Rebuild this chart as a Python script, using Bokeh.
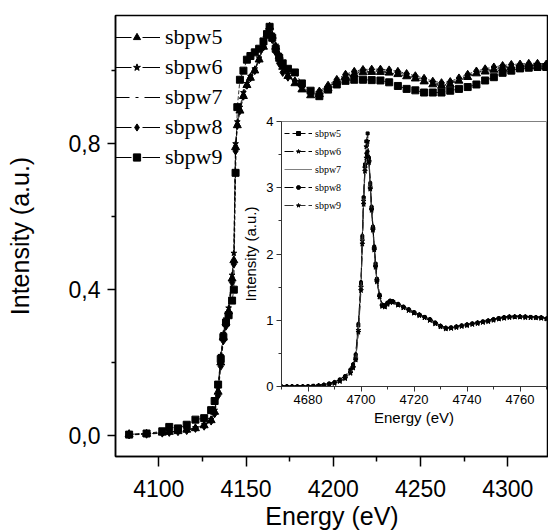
import numpy as np
from bokeh.plotting import figure
from bokeh.models import Range1d, FixedTicker, Legend, LegendItem, ColumnDataSource, CustomJSTickFormatter
from bokeh.embed import file_html
from bokeh.resources import INLINE

# ---------------- data: main plot ----------------
series_names = ["sbpw5", "sbpw6", "sbpw7", "sbpw8", "sbpw9"]

E_main = [4083, 4093, 4102, 4106, 4111, 4116, 4121, 4126, 4130, 4132,
          4134, 4135.5, 4137, 4138.5, 4140, 4142, 4143, 4144, 4145, 4146.5,
          4148.5, 4150.5, 4152.5, 4155, 4157.5, 4160, 4162, 4163.5, 4165, 4167,
          4169, 4171, 4174, 4178, 4182, 4187, 4192, 4197, 4202, 4207,
          4212, 4217, 4222, 4227, 4232, 4237, 4242, 4247, 4252, 4257,
          4262, 4267, 4272, 4277, 4282, 4287, 4292, 4297, 4302, 4307,
          4312, 4317, 4322]

sbpw5_main = [0.004, 0.005, 0.008, 0.010, 0.012, 0.016, 0.020, 0.028, 0.042, 0.065,
              0.12, 0.20, 0.27, 0.31, 0.34, 0.43, 0.48, 0.79, 0.85, 0.89,
              0.93, 0.96, 0.98, 1.00, 1.03, 1.065, 1.10, 1.12, 1.095, 1.065,
              1.04, 1.01, 0.985, 0.965, 0.948, 0.932, 0.935, 0.952, 0.968, 0.982,
              0.990, 0.995, 0.996, 0.996, 0.994, 0.990, 0.984, 0.978, 0.970, 0.962,
              0.958, 0.962, 0.972, 0.982, 0.992, 0.997, 1.002, 1.006, 1.009, 1.010,
              1.012, 1.012, 1.010]
sbpw6_main = [0.003, 0.006, 0.009, 0.011, 0.013, 0.017, 0.022, 0.030, 0.045, 0.070,
              0.13, 0.22, 0.28, 0.32, 0.35, 0.44, 0.50, 0.80, 0.86, 0.90,
              0.94, 0.965, 0.985, 1.005, 1.035, 1.07, 1.10, 1.118, 1.10, 1.07,
              1.045, 1.015, 0.99, 0.97, 0.952, 0.936, 0.94, 0.956, 0.972, 0.986,
              0.994, 0.999, 1.000, 1.000, 0.998, 0.994, 0.988, 0.982, 0.975, 0.967,
              0.963, 0.966, 0.976, 0.986, 0.995, 1.001, 1.006, 1.010, 1.013, 1.014,
              1.016, 1.016, 1.014]
sbpw7_main = [0.004, 0.005, 0.008, 0.010, 0.012, 0.016, 0.021, 0.029, 0.043, 0.066,
              0.125, 0.21, 0.275, 0.315, 0.345, 0.435, 0.49, 0.79, 0.855, 0.895,
              0.935, 0.962, 0.982, 1.002, 1.032, 1.068, 1.10, 1.12, 1.097, 1.067,
              1.042, 1.012, 0.987, 0.967, 0.95, 0.934, 0.937, 0.954, 0.97, 0.984,
              0.992, 0.997, 0.998, 0.998, 0.996, 0.992, 0.986, 0.98, 0.972, 0.964,
              0.96, 0.964, 0.974, 0.984, 0.994, 0.999, 1.004, 1.008, 1.011, 1.012,
              1.014, 1.014, 1.012]
sbpw8_main = [0.002, 0.004, 0.007, 0.009, 0.011, 0.014, 0.020, 0.026, 0.040, 0.060,
              0.11, 0.19, 0.26, 0.30, 0.33, 0.42, 0.47, 0.78, 0.85, 0.89,
              0.93, 0.96, 0.98, 1.00, 1.03, 1.065, 1.098, 1.115, 1.085, 1.05,
              1.02, 0.995, 0.982, 0.972, 0.955, 0.94, 0.944, 0.96, 0.976, 0.99,
              0.998, 1.003, 1.004, 1.004, 1.002, 0.998, 0.992, 0.986, 0.979, 0.971,
              0.967, 0.97, 0.98, 0.99, 0.999, 1.005, 1.010, 1.014, 1.017, 1.018,
              1.020, 1.020, 1.018]
sbpw9_main = [0.003, 0.006, 0.012, 0.024, 0.020, 0.030, 0.044, 0.048, 0.070, 0.095,
              0.14, 0.21, 0.27, 0.31, 0.33, 0.37, 0.40, 0.72, 0.90, 0.975,
              1.00, 1.03, 1.04, 1.05, 1.06, 1.08, 1.10, 1.12, 1.09, 1.06,
              1.035, 1.02, 1.005, 0.995, 0.965, 0.945, 0.93, 0.948, 0.962, 0.972,
              0.975, 0.975, 0.974, 0.973, 0.968, 0.958, 0.95, 0.946, 0.94, 0.94,
              0.94, 0.945, 0.95, 0.955, 0.962, 0.973, 0.982, 0.994, 1.000, 1.006,
              1.008, 1.010, 1.010]

main_x_ticks = [4100, 4150, 4200, 4250, 4300]
main_x_minor = [4125, 4175, 4225, 4275, 4325]
main_y_ticks = [0.0, 0.4, 0.8]
main_y_minor = [0.2, 0.6, 1.0]

# ---------------- data: inset ----------------
E_inset = [4670, 4672, 4674, 4676, 4678, 4680, 4682, 4684, 4686, 4688,
           4690, 4692, 4694, 4696, 4697, 4698, 4699, 4700, 4700.5, 4701,
           4701.5, 4702, 4702.5, 4703, 4703.5, 4704, 4704.5, 4705, 4705.5, 4706,
           4707, 4708, 4709, 4710, 4711, 4712, 4714, 4716, 4718, 4720,
           4722, 4724, 4726, 4728, 4730, 4732, 4734, 4736, 4738, 4740,
           4742, 4744, 4746, 4748, 4750, 4752, 4754, 4756, 4758, 4760,
           4762, 4764, 4766, 4768, 4770]
sbpw5_inset = [0.00, 0.00, 0.00, 0.00, 0.00, 0.00, 0.01, 0.01, 0.02, 0.04,
               0.06, 0.10, 0.15, 0.24, 0.32, 0.47, 0.92, 1.55, 2.25, 2.85,
               3.35, 3.70, 3.82, 3.45, 3.05, 2.70, 2.40, 2.10, 1.85, 1.62,
               1.38, 1.23, 1.22, 1.26, 1.29, 1.28, 1.24, 1.20, 1.16, 1.12,
               1.08, 1.05, 1.01, 0.96, 0.91, 0.88, 0.89, 0.90, 0.92, 0.93,
               0.95, 0.96, 0.98, 0.99, 1.01, 1.03, 1.04, 1.05, 1.05, 1.05,
               1.05, 1.05, 1.04, 1.04, 1.02]
sbpw6_inset = [0.00, 0.00, 0.00, 0.00, 0.00, 0.00, 0.00, 0.01, 0.02, 0.03,
               0.05, 0.08, 0.13, 0.21, 0.29, 0.42, 0.85, 1.50, 2.20, 2.80,
               3.30, 3.62, 3.70, 3.40, 3.00, 2.68, 2.38, 2.08, 1.82, 1.60,
               1.36, 1.22, 1.21, 1.25, 1.28, 1.28, 1.23, 1.19, 1.15, 1.11,
               1.08, 1.04, 1.00, 0.95, 0.91, 0.88, 0.88, 0.90, 0.91, 0.93,
               0.94, 0.96, 0.97, 0.99, 1.01, 1.02, 1.04, 1.05, 1.05, 1.05,
               1.05, 1.04, 1.04, 1.04, 1.02]
sbpw7_inset = [0.00, 0.00, 0.00, 0.00, 0.00, 0.00, 0.01, 0.01, 0.02, 0.04,
               0.06, 0.09, 0.14, 0.23, 0.31, 0.45, 0.90, 1.52, 2.22, 2.82,
               3.30, 3.55, 3.60, 3.42, 3.02, 2.70, 2.40, 2.10, 1.84, 1.61,
               1.37, 1.23, 1.22, 1.26, 1.29, 1.28, 1.24, 1.20, 1.16, 1.12,
               1.08, 1.05, 1.01, 0.96, 0.91, 0.88, 0.89, 0.90, 0.92, 0.93,
               0.95, 0.96, 0.98, 0.99, 1.01, 1.03, 1.04, 1.05, 1.05, 1.05,
               1.05, 1.05, 1.04, 1.04, 1.02]
sbpw8_inset = [0.00, 0.00, 0.00, 0.00, 0.00, 0.01, 0.01, 0.02, 0.03, 0.05,
               0.07, 0.11, 0.16, 0.26, 0.34, 0.49, 0.95, 1.58, 2.28, 2.86,
               3.32, 3.52, 3.55, 3.44, 3.08, 2.72, 2.42, 2.12, 1.86, 1.63,
               1.39, 1.24, 1.23, 1.27, 1.30, 1.29, 1.25, 1.21, 1.17, 1.12,
               1.09, 1.05, 1.02, 0.97, 0.92, 0.89, 0.89, 0.91, 0.92, 0.94,
               0.95, 0.97, 0.98, 1.00, 1.02, 1.03, 1.05, 1.06, 1.06, 1.06,
               1.06, 1.05, 1.05, 1.04, 1.03]
sbpw9_inset = [0.00, 0.00, 0.00, 0.00, 0.00, 0.00, 0.00, 0.01, 0.01, 0.03,
               0.05, 0.08, 0.12, 0.20, 0.28, 0.40, 0.82, 1.45, 2.15, 2.75,
               3.25, 3.45, 3.48, 3.38, 2.98, 2.66, 2.36, 2.06, 1.80, 1.58,
               1.35, 1.21, 1.20, 1.24, 1.27, 1.27, 1.23, 1.19, 1.15, 1.11,
               1.07, 1.04, 1.00, 0.95, 0.90, 0.87, 0.88, 0.89, 0.91, 0.92,
               0.94, 0.95, 0.97, 0.98, 1.00, 1.02, 1.03, 1.04, 1.05, 1.05,
               1.04, 1.04, 1.04, 1.03, 1.02]

inset_x_ticks = [4680, 4700, 4720, 4740, 4760]
inset_x_minor = [4670, 4690, 4710, 4730, 4750, 4770]
inset_y_ticks = [0, 1, 2, 3, 4]
inset_y_minor = [0.5, 1.5, 2.5, 3.5]

SANS = "Liberation Sans"
SERIF = "Liberation Serif"

# ---------------- main figure ----------------
p = figure(width=548, height=532,
           x_range=Range1d(4075.2, 4323.3), y_range=Range1d(-0.057, 1.151),
           output_backend="svg", toolbar_location=None,
           min_border_left=115, min_border_right=0, min_border_top=15, min_border_bottom=70)
p.grid.visible = False
p.outline_line_color = "black"
p.outline_line_width = 1.5
p.background_fill_color = "white"
p.border_fill_color = "white"

xa = p.xaxis[0]
xa.ticker = FixedTicker(ticks=main_x_ticks, minor_ticks=main_x_minor)
ya = p.yaxis[0]
ya.ticker = FixedTicker(ticks=main_y_ticks, minor_ticks=main_y_minor)
ya.formatter = CustomJSTickFormatter(code="return tick.toFixed(1).replace('.', ',');")
xa.axis_label = "Energy (eV)"
ya.axis_label = "Intensity (a.u.)"
for ax, tout, mout in ((xa, 10, 5), (ya, 8, 4)):
    ax.axis_line_width = 1.5
    ax.axis_line_color = "black"
    ax.major_tick_line_width = 1.5
    ax.minor_tick_line_width = 1.5
    ax.major_tick_line_color = "black"
    ax.minor_tick_line_color = "black"
    ax.major_tick_in = 0
    ax.minor_tick_in = 0
    ax.major_tick_out = tout
    ax.minor_tick_out = mout
    ax.major_label_text_font = SANS
    ax.major_label_text_font_size = "23px"
    ax.major_label_text_color = "black"
    ax.axis_label_text_font = SANS
    ax.axis_label_text_font_size = "25px"
    ax.axis_label_text_font_style = "normal"
    ax.axis_label_text_color = "black"
xa.major_label_standoff = 13
xa.axis_label_standoff = 2
ya.major_label_standoff = 7
ya.axis_label_standoff = 32

main_series = [sbpw5_main, sbpw6_main, sbpw7_main, sbpw8_main, sbpw9_main]
main_markers = ["triangle", "star", None, "diamond", "square"]
main_sizes = [8, 6, 0, 8, 7]
legend_dash = ["18 11", "18 11", "16 6 3 6 16", "18 11", "18 11"]

items = []
for name, ys, mk, sz, dash in zip(series_names, main_series, main_markers, main_sizes, legend_dash):
    src = ColumnDataSource(dict(x=E_main, y=ys))
    dash_plot = "6 3 2 3" if mk is None else "4 2"
    p.line("x", "y", source=src, line_color="black", line_width=0.8, line_dash=dash_plot)
    if mk is not None:
        p.scatter("x", "y", source=src, marker=mk, size=sz, fill_color="black", line_color="black")
    # legend proxy (NaN point, draws nothing in the plot)
    proxy = ColumnDataSource(dict(x=[np.nan], y=[np.nan]))
    rs = [p.line("x", "y", source=proxy, line_color="black", line_width=1.2, line_dash=dash)]
    if mk is not None:
        rs.append(p.scatter("x", "y", source=proxy, marker=mk, fill_color="black", line_color="black"))
    items.append(LegendItem(label=name, renderers=rs))

leg = Legend(items=items, location=(-2, 286), orientation="vertical",
             glyph_width=47, glyph_height=18, label_height=24, spacing=4,
             label_standoff=5, padding=0, margin=0,
             border_line_color=None, background_fill_alpha=0,
             label_text_font=SERIF, label_text_font_size="22px", label_text_color="black")
p.add_layout(leg, "center")

# ---------------- inset figure ----------------
ins = figure(width=312, height=317,
             x_range=Range1d(4670, 4770), y_range=Range1d(0, 4),
             output_backend="svg", toolbar_location=None,
             min_border_left=45, min_border_right=2, min_border_top=8, min_border_bottom=44)
ins.styles = {"position": "absolute", "left": "236px", "top": "113px"}
ins.grid.visible = False
ins.border_fill_color = None
ins.background_fill_color = "white"
ins.outline_line_color = "#808080"
ins.outline_line_width = 1

ixa = ins.xaxis[0]
iya = ins.yaxis[0]
ixa.ticker = FixedTicker(ticks=inset_x_ticks, minor_ticks=inset_x_minor)
iya.ticker = FixedTicker(ticks=inset_y_ticks, minor_ticks=inset_y_minor)
ixa.axis_label = "Energy (eV)"
iya.axis_label = "Intensity (a.u.)"
for ax in (ixa, iya):
    ax.axis_line_color = "#333333"
    ax.axis_line_width = 1
    ax.major_tick_line_color = "#333333"
    ax.minor_tick_line_color = "#333333"
    ax.major_tick_in = 0
    ax.minor_tick_in = 0
    ax.major_tick_out = 5
    ax.minor_tick_out = 3
    ax.major_label_text_font = SANS
    ax.major_label_text_font_size = "13px"
    ax.major_label_text_color = "black"
    ax.axis_label_text_font = SANS
    ax.axis_label_text_font_size = "15px"
    ax.axis_label_text_font_style = "normal"
    ax.axis_label_text_color = "black"
ixa.major_label_standoff = 3
ixa.axis_label_standoff = 2
iya.major_label_standoff = 3
iya.axis_label_standoff = 4

inset_series = [sbpw5_inset, sbpw6_inset, sbpw7_inset, sbpw8_inset, sbpw9_inset]
inset_markers = ["square", "star", None, "circle", "star"]
inset_sizes = [3, 5, 0, 3, 5]
inset_colors = ["black", "black", "#808080", "black", "#333333"]
inset_dash = ["5 3", "9 3", "solid", "9 3", "9 3"]

iitems = []
for name, ys, mk, sz, col, dash in zip(series_names, inset_series, inset_markers, inset_sizes, inset_colors, inset_dash):
    src = ColumnDataSource(dict(x=E_inset, y=ys))
    ins.line("x", "y", source=src, line_color=col, line_width=1, line_dash=dash)
    if mk is not None:
        ins.scatter("x", "y", source=src, marker=mk, size=sz, fill_color="black", line_color="black")
    proxy = ColumnDataSource(dict(x=[np.nan], y=[np.nan]))
    rs = [ins.line("x", "y", source=proxy, line_color=col, line_width=1, line_dash=dash)]
    if mk is not None:
        rs.append(ins.scatter("x", "y", source=proxy, marker=mk, fill_color="black", line_color="black"))
    iitems.append(LegendItem(label=name, renderers=rs))

ileg = Legend(items=iitems, location=(3, 175), orientation="vertical",
              glyph_width=28, glyph_height=10, label_height=12, spacing=6,
              label_standoff=3, padding=0, margin=0,
              border_line_color=None, background_fill_alpha=0,
              label_text_font=SERIF, label_text_font_size="10px", label_text_color="black")
ins.add_layout(ileg, "center")

open("out.html", "w").write(file_html([p, ins], INLINE))
